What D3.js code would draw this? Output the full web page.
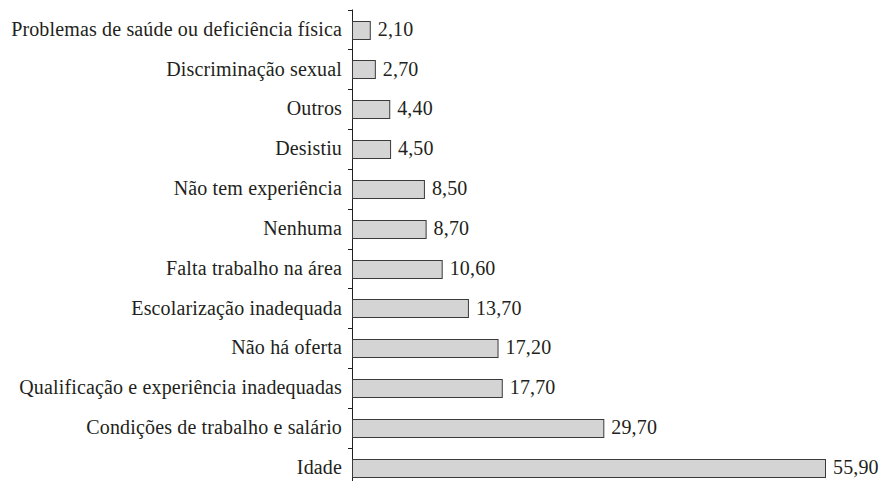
<!DOCTYPE html>
<html>
<head>
<meta charset="utf-8">
<script src="https://cdn.jsdelivr.net/npm/d3@7.9.0/dist/d3.min.js"></script>
<style>
  html, body { margin: 0; padding: 0; background: #fff; }
  svg { display: block; }
  text { font-family: "Liberation Serif", "DejaVu Serif", serif; fill: #231f20; }
</style>
</head>
<body>
<div id="chart"></div>
<script>
const categories = [
    "Problemas de saúde ou deficiência física",
    "Discriminação sexual",
    "Outros",
    "Desistiu",
    "Não tem experiência",
    "Nenhuma",
    "Falta trabalho na área",
    "Escolarização inadequada",
    "Não há oferta",
    "Qualificação e experiência inadequadas",
    "Condições de trabalho e salário",
    "Idade"
];
const values = [2.10, 2.70, 4.40, 4.50, 8.50, 8.70, 10.60, 13.70, 17.20, 17.70, 29.70, 55.90];

const width = 884;
const height = 481;
const axisX = 352;

const svg = d3.select('#chart')
    .append('svg')
    .attr('width', width)
    .attr('height', height);

const yScale = d3.scaleBand()
    .domain(categories)
    .range([9.5, 487.5])
    .paddingInner(0.56)
    .paddingOuter(0.28);

const xScale = d3.scaleLinear()
    .domain([0, 55.9])
    .range([axisX, axisX + 473]);

const fmt = v => v.toFixed(2).replace('.', ',');

// axis line + ticks between categories
const step = yScale.step();
const axisTop = yScale.range()[0];
const boundaries = d3.range(categories.length + 1).map(i => axisTop + i * step);

svg.append('line')
    .attr('x1', axisX + 0.5).attr('x2', axisX + 0.5)
    .attr('y1', axisTop).attr('y2', height)
    .attr('stroke', '#231f20')
    .attr('stroke-width', 1);

svg.append('g')
    .selectAll('line')
    .data(boundaries)
    .join('line')
    .attr('x1', axisX - 4).attr('x2', axisX + 0.5)
    .attr('y1', d => Math.round(d) + 0.5).attr('y2', d => Math.round(d) + 0.5)
    .attr('stroke', '#231f20');

// bars
svg.append('g')
    .selectAll('rect')
    .data(values)
    .join('rect')
    .attr('x', xScale(0) + 0.5)
    .attr('y', (d, i) => Math.round(yScale(categories[i])) + 0.5)
    .attr('width', d => xScale(d) - xScale(0))
    .attr('height', Math.round(yScale.bandwidth()))
    .attr('fill', '#d4d4d4')
    .attr('stroke', '#3a3a3a')
    .attr('stroke-width', 1);

// category labels
svg.append('g')
    .selectAll('text')
    .data(categories)
    .join('text')
    .attr('x', axisX - 10)
    .attr('y', d => yScale(d) + yScale.bandwidth() / 2)
    .attr('dy', '0.32em')
    .attr('text-anchor', 'end')
    .style('font-size', '20px')
    .style('letter-spacing', '0.15px')
    .text(d => d);

// value labels
svg.append('g')
    .selectAll('text')
    .data(values)
    .join('text')
    .attr('x', d => xScale(d) + 8)
    .attr('y', (d, i) => yScale(categories[i]) + yScale.bandwidth() / 2)
    .attr('dy', '0.32em')
    .style('font-size', '20px')
    .style('letter-spacing', '0.15px')
    .text(d => fmt(d));
</script>
</body>
</html>
